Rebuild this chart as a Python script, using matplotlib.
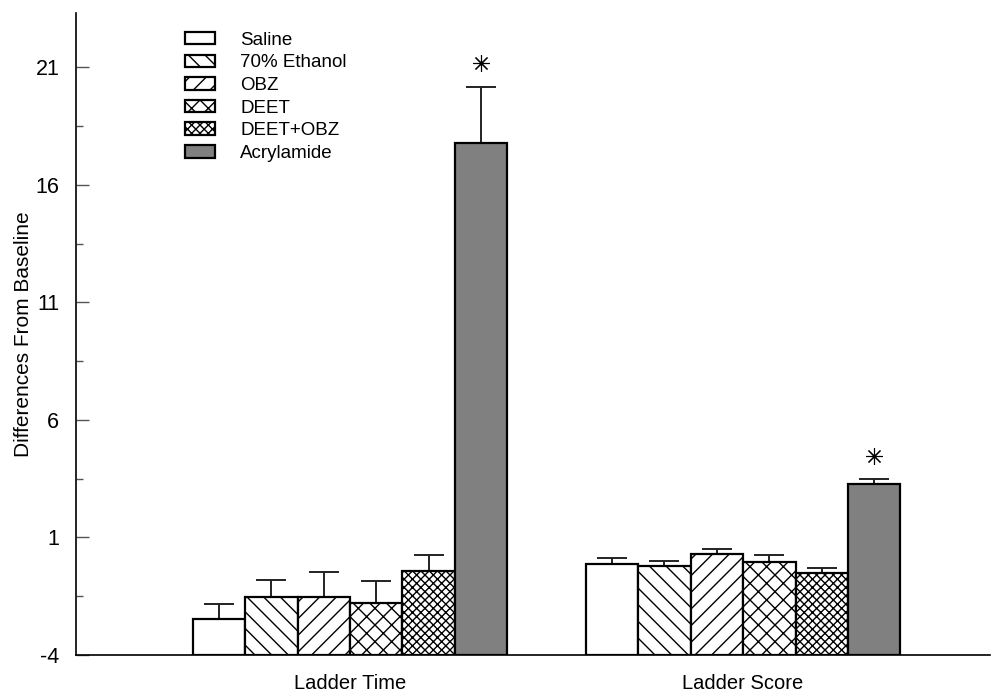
import matplotlib
matplotlib.use("Agg")
import matplotlib.pyplot as plt
import numpy as np
from matplotlib.ticker import FixedLocator

plt.rcParams['font.family'] = ['Liberation Sans', 'DejaVu Sans']
plt.rcParams['hatch.linewidth'] = 1.0
plt.rcParams['axes.unicode_minus'] = False

groups = ["Ladder Time", "Ladder Score"]
treatments = ["Saline", "70% Ethanol", "OBZ", "DEET", "DEET+OBZ", "Acrylamide"]
hatches = ["", "\\\\", "//", "xx", "xxxx", ""]
facecolors = ["white", "white", "white", "white", "white", "#808080"]

# mean difference from baseline, per treatment: [Ladder Time, Ladder Score]
means = {
    "Saline":      [-2.47, -0.12],
    "70% Ethanol": [-1.52, -0.23],
    "OBZ":         [-1.52,  0.28],
    "DEET":        [-1.80, -0.03],
    "DEET+OBZ":    [-0.43, -0.53],
    "Acrylamide":  [17.77,  3.28],
}
# upper error (SEM)
errors = {
    "Saline":      [0.64, 0.24],
    "70% Ethanol": [0.70, 0.21],
    "OBZ":         [1.06, 0.23],
    "DEET":        [0.93, 0.28],
    "DEET+OBZ":    [0.69, 0.24],
    "Acrylamide":  [2.38, 0.22],
}
significant = {"Acrylamide": [True, True]}
star_offset = [1.05, 0.97]

major_ticks = [-4, 1, 6, 11, 16, 21]
minor_ticks = [-1.5, 3.5, 8.5, 13.5, 18.5]

baseline = -4
fig = plt.figure(figsize=(10.02, 6.94), dpi=100)
ax = fig.add_axes([0.0758, 0.0562, 0.9122, 0.9248])

n = len(treatments)
width = 0.8 / n
x = np.arange(len(groups))
for i, t in enumerate(treatments):
    pos = x - 0.4 + width * (i + 0.5)
    vals = np.array(means[t])
    ax.bar(pos, vals - baseline, bottom=baseline, width=width,
           facecolor=facecolors[i], edgecolor="black", hatch=hatches[i],
           linewidth=1.6, label=t, zorder=2)
    ax.errorbar(pos, vals, yerr=[np.zeros_like(vals), errors[t]], fmt="none",
                ecolor="#222222", elinewidth=1.4, capsize=10.5, capthick=1.4,
                zorder=1)
    if t in significant:
        for j, s in enumerate(significant[t]):
            if s:
                ax.plot(pos[j], vals[j] + errors[t][j] + star_offset[j],
                        marker=(8, 2, 0), markersize=12, color="black",
                        markeredgewidth=0.8, linestyle="none")

ax.set_xlim(-0.697, 1.628)
ax.set_ylim(baseline, 23.3)
ax.set_xticks(x)
ax.set_xticklabels(groups, fontsize=14.5)
ax.tick_params(axis="x", length=0, pad=14)
ax.set_yticks(major_ticks)
ax.yaxis.set_minor_locator(FixedLocator(minor_ticks))
ax.tick_params(axis="y", which="major", direction="in", length=9, width=1,
               labelsize=15.5, pad=12, color="#555555")
ax.tick_params(axis="y", which="minor", direction="in", length=5, width=1,
               color="#555555")
ax.set_ylabel("Differences From Baseline", fontsize=15)
ax.yaxis.set_label_coords(-0.047, 0.5)
for side in ["top", "right"]:
    ax.spines[side].set_visible(False)
for side in ["left", "bottom"]:
    ax.spines[side].set_linewidth(1.2)

ax.legend(loc="upper left", bbox_to_anchor=(0.119, 0.971), frameon=False,
          fontsize=13.5, handlelength=1.6, handleheight=0.65,
          handletextpad=1.35, labelspacing=0.3, borderpad=0,
          borderaxespad=0)

fig.savefig("out.png", dpi=100)
